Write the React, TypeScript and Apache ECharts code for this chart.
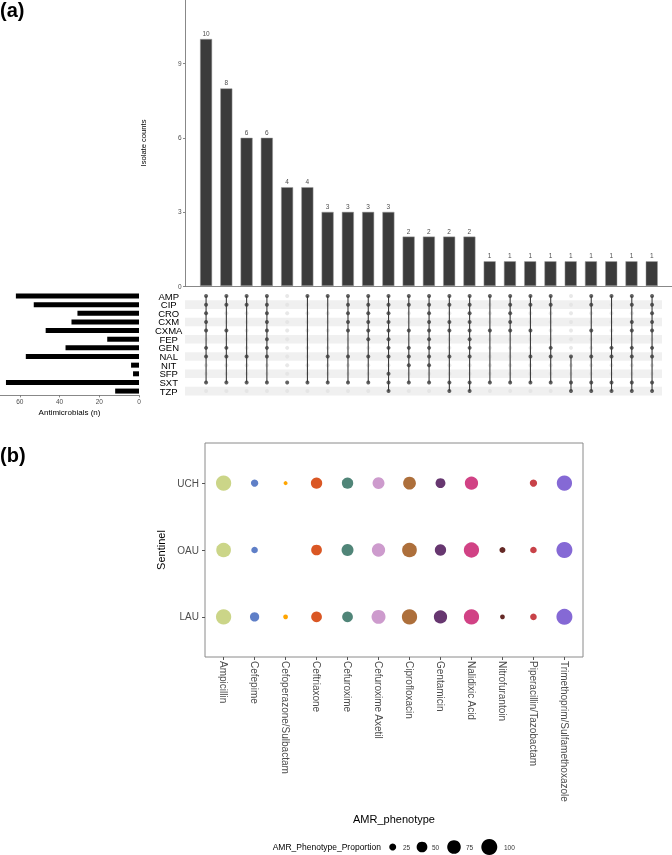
import React, { useEffect, useRef } from 'react';
import * as echarts from 'echarts';

const FONT = '"Liberation Sans", Arial, Helvetica, sans-serif';

// ---------- (a) UpSet data ----------
const setNames = ['AMP', 'CIP', 'CRO', 'CXM', 'CXMA', 'FEP', 'GEN', 'NAL', 'NIT', 'SFP', 'SXT', 'TZP'];
const setSizes = [62, 53, 31, 34, 47, 16, 37, 57, 4, 3, 67, 12];
const intersectionCounts = [10, 8, 6, 6, 4, 4, 3, 3, 3, 3, 2, 2, 2, 2, 1, 1, 1, 1, 1, 1, 1, 1, 1];
const intersectionSets: string[][] = [
  ['AMP', 'CIP', 'CRO', 'CXM', 'CXMA', 'GEN', 'NAL', 'SXT'],
  ['AMP', 'CIP', 'CXMA', 'GEN', 'NAL', 'SXT'],
  ['AMP', 'CIP', 'NAL', 'SXT'],
  ['AMP', 'CIP', 'CRO', 'CXM', 'CXMA', 'FEP', 'GEN', 'NAL', 'SXT'],
  ['SXT'],
  ['AMP', 'SXT'],
  ['AMP', 'NAL', 'SXT'],
  ['AMP', 'CIP', 'CRO', 'CXM', 'CXMA', 'NAL', 'SXT'],
  ['AMP', 'CIP', 'CRO', 'CXM', 'CXMA', 'FEP', 'NAL', 'SXT'],
  ['AMP', 'CIP', 'CRO', 'CXM', 'CXMA', 'FEP', 'GEN', 'NAL', 'SFP', 'SXT', 'TZP'],
  ['AMP', 'CIP', 'CXMA', 'GEN', 'NAL', 'NIT', 'SXT'],
  ['AMP', 'CIP', 'CRO', 'CXM', 'CXMA', 'FEP', 'GEN', 'NAL', 'NIT', 'SXT'],
  ['AMP', 'CIP', 'CXM', 'CXMA', 'NAL', 'SXT', 'TZP'],
  ['AMP', 'CIP', 'CRO', 'CXM', 'CXMA', 'FEP', 'GEN', 'NAL', 'SXT', 'TZP'],
  ['AMP', 'CXMA', 'SXT'],
  ['AMP', 'CIP', 'CRO', 'CXM', 'CXMA', 'SXT'],
  ['AMP', 'CIP', 'CXMA', 'NAL', 'SXT'],
  ['AMP', 'CIP', 'GEN', 'NAL', 'SXT'],
  ['NAL', 'SXT', 'TZP'],
  ['AMP', 'CIP', 'CXMA', 'NAL', 'SXT', 'TZP'],
  ['AMP', 'GEN', 'NAL', 'SXT', 'TZP'],
  ['AMP', 'CIP', 'CXM', 'CXMA', 'GEN', 'NAL', 'SXT', 'TZP'],
  ['AMP', 'CIP', 'CRO', 'CXM', 'CXMA', 'GEN', 'NAL', 'SXT', 'TZP'],
];
const countTicks = [0, 3, 6, 9];
const sizeTicks = [0, 20, 40, 60];

// ---------- (b) bubble data ----------
const drugs = [
  'Ampicillin', 'Cefepime', 'Cefoperazone/Sulbactam', 'Ceftriaxone', 'Cefuroxime',
  'Cefuroxime Axetil', 'Ciprofloxacin', 'Gentamicin', 'Nalidixic Acid', 'Nitrofurantoin',
  'Piperacillin/Tazobactam', 'Trimethoprim/Sulfamethoxazole',
];
const sentinels = ['LAU', 'OAU', 'UCH'];
const lauProp: (number | null)[] = [92, 39, 14, 50, 50, 79, 92, 72, 92, 14, 23, 100];
const oauProp: (number | null)[] = [86, 23, null, 50, 60, 72, 86, 55, 92, 20, 23, 100];
const uchProp: (number | null)[] = [92, 27, 11, 55, 55, 60, 67, 44, 72, null, 27, 92];
const drugColors = [
  '#CBD588', '#5F7FC7', '#FFA500', '#DA5724', '#508578', '#CD9BCD',
  '#AD6F3B', '#673770', '#D14285', '#652926', '#C84248', '#8569D5',
];
const legendValues = [25, 50, 75, 100];

const bubbleSize = (v: number) => 1.8 * Math.sqrt(v) - 2;

export default function App() {
  const ref = useRef<HTMLDivElement>(null);

  useEffect(() => {
    const chart = echarts.init(ref.current!, null, { renderer: 'svg' });

    const emptyDots: number[][] = [];
    const fullDots: number[][] = [];
    const links: number[][] = [];
    intersectionSets.forEach((sets, i) => {
      const idx = sets.map((s) => setNames.indexOf(s));
      setNames.forEach((_, r) => {
        if (idx.includes(r)) fullDots.push([i, r]);
        else emptyDots.push([i, r]);
      });
      if (idx.length > 1) links.push([i, Math.min(...idx), Math.max(...idx)]);
    });

    const bubbleData: number[][] = [];
    [lauProp, oauProp, uchProp].forEach((arr, s) =>
      arr.forEach((v, d) => {
        if (v != null) bubbleData.push([d, s, v]);
      })
    );

    const axisLn = { show: true, onZero: false, lineStyle: { color: '#6a6a6a', width: 0.8 } };
    const tickLbl = { fontSize: 6.5, color: '#4d4d4d', fontFamily: FONT };

    // legend layout
    const legendY = 847;
    const legendCircleX = [392.7, 422, 454, 489.3];
    const legendTextX = [403, 432, 466, 504];

    const option: any = {
      animation: false,
      textStyle: { fontFamily: FONT },
      grid: [
        { left: 185, top: 0, width: 487, height: 286 },
        { left: 185, top: 291.7, width: 477, height: 103.7 },
        { left: 0, top: 291.7, width: 139, height: 103.7 },
        {
          left: 205, top: 443, width: 378, height: 214, show: true,
          borderColor: '#8a8a8a', borderWidth: 1, backgroundColor: 'transparent',
        },
      ],
      xAxis: [
        {
          gridIndex: 0, type: 'value', min: -1.04, max: 23,
          axisLine: axisLn, axisTick: { show: false }, axisLabel: { show: false }, splitLine: { show: false },
        },
        { gridIndex: 1, type: 'value', min: -1.04, max: 22.49, show: false },
        {
          gridIndex: 2, type: 'value', inverse: true, min: 0, max: 70,
          axisLine: axisLn,
          axisTick: { show: true, length: 2, lineStyle: { color: '#6a6a6a', width: 0.8 }, customValues: sizeTicks },
          axisLabel: { ...tickLbl, margin: 3, customValues: sizeTicks },
          splitLine: { show: false },
          name: 'Antimicrobials (n)', nameLocation: 'middle', nameGap: 13,
          nameTextStyle: { fontSize: 8, color: '#000', fontFamily: FONT },
        },
        {
          gridIndex: 3, type: 'value', min: -0.6, max: 11.6,
          axisLine: { show: false, onZero: false },
          axisTick: { show: true, length: 3, lineStyle: { color: '#555' }, customValues: drugs.map((_, i) => i) },
          axisLabel: {
            customValues: drugs.map((_, i) => i),
            formatter: (v: number) => drugs[Math.round(v)] ?? '',
            rotate: -90, fontSize: 10, color: '#4d4d4d', margin: 4, fontFamily: FONT,
          },
          splitLine: { show: false },
          name: 'AMR_phenotype', nameLocation: 'middle', nameGap: 156,
          nameTextStyle: { fontSize: 11, color: '#000', fontFamily: FONT },
        },
      ],
      yAxis: [
        {
          gridIndex: 0, type: 'value', min: 0, max: 11.58,
          axisLine: axisLn,
          axisTick: { show: true, length: 2, lineStyle: { color: '#6a6a6a', width: 0.8 }, customValues: countTicks },
          axisLabel: { ...tickLbl, margin: 3.5, customValues: countTicks },
          splitLine: { show: false },
          name: 'Isolate counts', nameLocation: 'middle', nameRotate: 90, nameGap: 38,
          nameTextStyle: { fontSize: 7.6, color: '#000', fontFamily: FONT },
        },
        {
          gridIndex: 1, type: 'category', data: setNames, inverse: true,
          axisLine: { show: false }, axisTick: { show: false },
          axisLabel: {
            interval: 0, fontSize: 9.5, lineHeight: 8, color: '#000', align: 'center', margin: 16.3, fontFamily: FONT,
          },
          splitArea: { show: true, interval: 0, areaStyle: { color: ['rgba(255,255,255,0)', '#f0f0f0'] } },
        },
        {
          gridIndex: 2, type: 'category', data: setNames, inverse: true, show: false,
        },
        {
          gridIndex: 3, type: 'value', min: -0.6, max: 2.6,
          axisLine: { show: false, onZero: false },
          axisTick: { show: true, length: 3, lineStyle: { color: '#555' }, customValues: [0, 1, 2] },
          axisLabel: {
            customValues: [0, 1, 2],
            formatter: (v: number) => sentinels[Math.round(v)] ?? '',
            fontSize: 10, color: '#4d4d4d', margin: 6, fontFamily: FONT,
          },
          splitLine: { show: false },
          name: 'Sentinel', nameLocation: 'middle', nameRotate: 90, nameGap: 20,
          nameTextStyle: { fontSize: 11, color: '#000', fontFamily: FONT },
        },
      ],
      series: [
        {
          type: 'bar', xAxisIndex: 0, yAxisIndex: 0, barWidth: 12,
          data: intersectionCounts.map((v, i) => [i, v]),
          itemStyle: { color: '#3b3b3b', borderColor: '#9a9a9a', borderWidth: 0.5 },
          label: { show: true, position: 'top', distance: 2, fontSize: 6.5, color: '#4d4d4d', fontFamily: FONT },
        },
        {
          type: 'scatter', xAxisIndex: 1, yAxisIndex: 1, symbolSize: 4,
          data: emptyDots, itemStyle: { color: '#e2e2e2' }, z: 2,
        },
        {
          type: 'custom', xAxisIndex: 1, yAxisIndex: 1, data: links,
          encode: { x: 0, y: [1, 2] }, z: 3,
          renderItem: (_p: any, api: any) => {
            const x = api.value(0);
            const a = api.coord([x, api.value(1)]);
            const b = api.coord([x, api.value(2)]);
            return {
              type: 'line',
              shape: { x1: a[0], y1: a[1], x2: b[0], y2: b[1] },
              style: { stroke: '#3b3b3b', lineWidth: 1.1 },
            };
          },
        },
        {
          type: 'scatter', xAxisIndex: 1, yAxisIndex: 1, symbolSize: 4,
          data: fullDots, itemStyle: { color: '#3b3b3b' }, z: 4,
        },
        {
          type: 'bar', xAxisIndex: 2, yAxisIndex: 2, barWidth: 5,
          data: setSizes, itemStyle: { color: '#000' },
        },
        {
          type: 'scatter', xAxisIndex: 3, yAxisIndex: 3,
          data: bubbleData,
          symbolSize: (d: number[]) => bubbleSize(d[2]),
          itemStyle: { color: (p: any) => drugColors[p.data[0]], opacity: 1 },
        },
      ],
      graphic: [
        {
          type: 'text', x: 0, y: 0,
          style: { text: '(a)', fontSize: 20, fontWeight: 'bold', fill: '#000', fontFamily: FONT },
        },
        {
          type: 'text', x: 0, y: 445,
          style: { text: '(b)', fontSize: 20, fontWeight: 'bold', fill: '#000', fontFamily: FONT },
        },
        {
          type: 'text', x: 272.7, y: legendY,
          style: { text: 'AMR_Phenotype_Proportion', fontSize: 8.5, fill: '#000', verticalAlign: 'middle', fontFamily: FONT },
        },
        ...legendValues.map((v, i) => ({
          type: 'circle',
          shape: { cx: legendCircleX[i], cy: legendY, r: bubbleSize(v) / 2 },
          style: { fill: '#000' },
        })),
        ...legendValues.map((v, i) => ({
          type: 'text', x: legendTextX[i], y: legendY,
          style: { text: String(v), fontSize: 6.5, fill: '#333', verticalAlign: 'middle', fontFamily: FONT },
        })),
      ],
    };

    chart.setOption(option);
    return () => chart.dispose();
  }, []);

  return <div ref={ref} style={{ position: 'fixed', left: 0, top: 0, width: 672, height: 855 }} />;
}
